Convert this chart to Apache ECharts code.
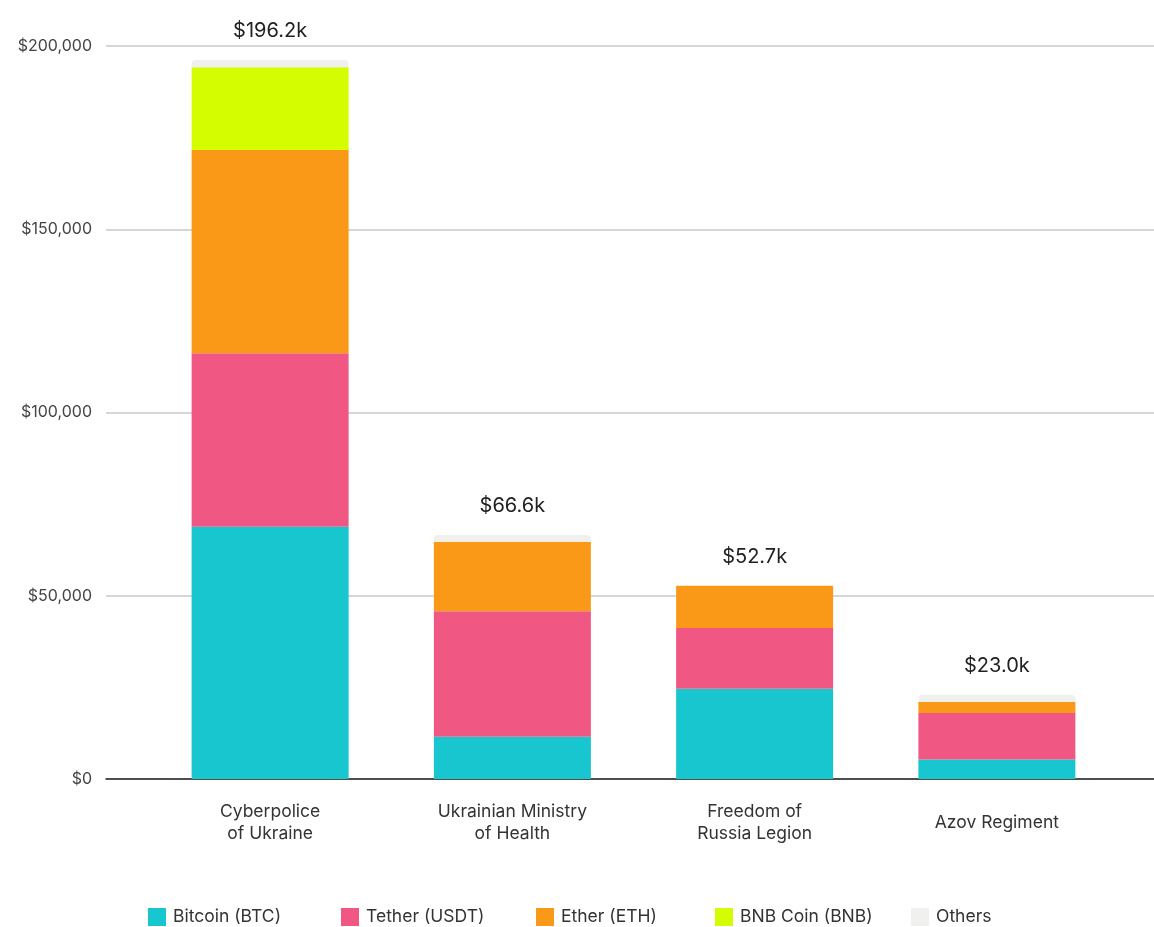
<!DOCTYPE html>
<html><head><meta charset="utf-8">
<script src="https://cdn.jsdelivr.net/npm/echarts@6/dist/echarts.min.js"></script>
<style>html,body{margin:0;padding:0;background:#fff}#c{width:1154px;height:927px}</style>
</head><body><div id="c"></div>
<script>
const categories = ['Cyberpolice\nof Ukraine', 'Ukrainian Ministry\nof Health', 'Freedom of\nRussia Legion', 'Azov Regiment'];
const btc = [68800, 11500, 24600, 5300];
const usdt = [47400, 34300, 16600, 12700];
const eth = [55400, 18900, 11500, 3000];
const bnb = [22600, 0, 0, 0];
const others = [2000, 1900, 0, 2000];
const totalLabels = ['$196.2k', '$66.6k', '$52.7k', '$23.0k'];
const yTicks = [0, 50000, 100000, 150000, 200000];

const FONT = 'Inter';
const colors = {btc:'#17c6cf', usdt:'#f05883', eth:'#fa9917', bnb:'#d4fe00', oth:'#f0f0ee'};
const chart = echarts.init(document.getElementById('c'));
const names = ['Bitcoin (BTC)', 'Tether (USDT)', 'Ether (ETH)', 'BNB Coin (BNB)', 'Others'];
const legendLeft = [143, 336, 531, 710, 906];
const legends = names.map((n, i) => ({
  data: [n], left: legendLeft[i], top: 903, itemWidth: 18, itemHeight: 18, itemGap: 9,
  icon: 'rect', selectedMode: false,
  textStyle: {fontFamily: FONT, fontSize: 17.5, color: '#333', padding: [0, 0, 0, 2]}
}));
function ser(name, data, color, extra) {
  return Object.assign({
    name, type: 'bar', stack: 's', data, xAxisIndex: 1, yAxisIndex: 1,
    barWidth: 157, itemStyle: {color}, emphasis: {disabled: true}
  }, extra || {});
}
chart.setOption({
  animation: false,
  textStyle: {fontFamily: FONT},
  color: [colors.btc, colors.usdt, colors.eth, colors.bnb, colors.oth],
  legend: legends,
  grid: [
    {left: 106, right: 0, top: 46, bottom: 148},
    {left: 149, right: 36, top: 46, bottom: 148}
  ],
  xAxis: [
    {gridIndex: 0, type: 'category', data: categories, show: true,
     axisLine: {show: true, lineStyle: {color: '#222', width: 1.5}}, axisTick: {show: false}, axisLabel: {show: false}},
    {gridIndex: 1, type: 'category', data: categories,
     axisLine: {show: false}, axisTick: {show: false},
     axisLabel: {fontFamily: FONT, fontSize: 17.5, color: '#333', margin: 44, lineHeight: 22, verticalAlign: 'middle'}}
  ],
  yAxis: [
    {gridIndex: 0, type: 'value', min: 0, max: 200000, interval: 50000,
     axisLine: {show: false}, axisTick: {show: false},
     splitLine: {lineStyle: {color: '#c8c8c8', width: 1.5}},
     axisLabel: {fontFamily: FONT, fontSize: 16, color: '#444', margin: 14,
       formatter: v => '$' + v.toLocaleString('en-US')}},
    {gridIndex: 1, type: 'value', min: 0, max: 200000, interval: 50000, show: false, splitLine: {show: false}}
  ],
  series: [
    ser(names[0], btc, colors.btc),
    ser(names[1], usdt, colors.usdt),
    ser(names[2], eth, colors.eth),
    ser(names[3], bnb, colors.bnb),
    ser(names[4], others, colors.oth, {
      itemStyle: {color: colors.oth, borderRadius: [4, 4, 0, 0]},
      label: {show: true, position: 'top', distance: 19,
        formatter: p => totalLabels[p.dataIndex],
        fontFamily: FONT, fontSize: 20, color: '#222'}
    })
  ]
});
</script></body></html>
